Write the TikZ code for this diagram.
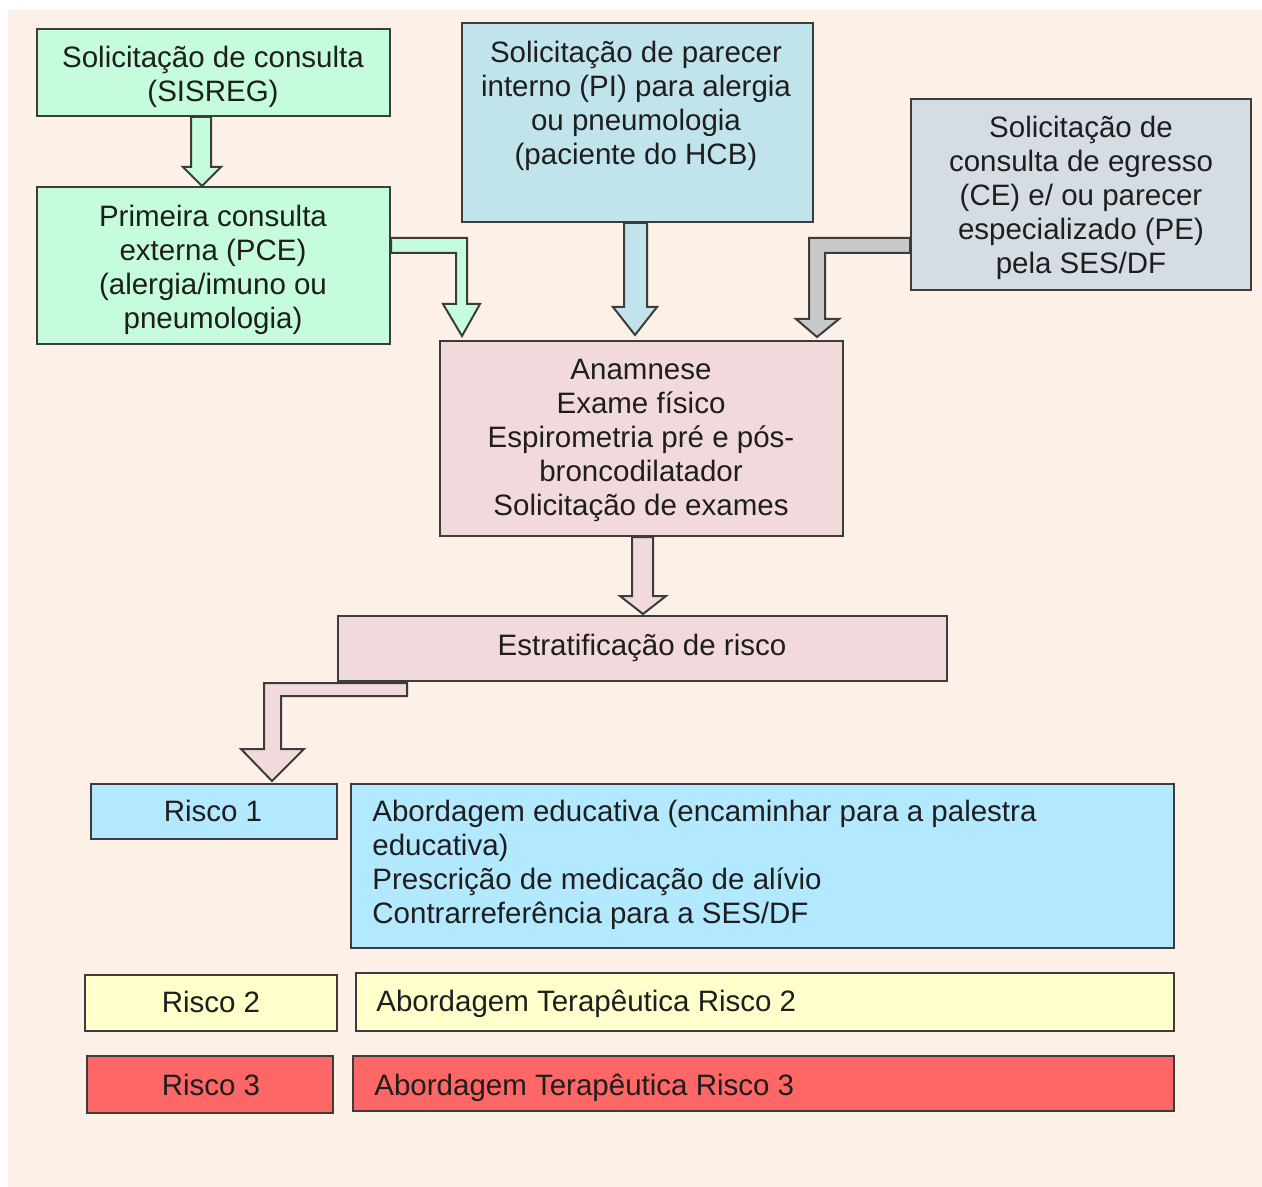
\documentclass[tikz,border=0pt]{standalone}
\usepackage{fontspec}
\setmainfont{Liberation Sans}
\usetikzlibrary{fit}
\definecolor{peach}{RGB}{253,240,230}
\definecolor{mint}{RGB}{196,252,220}
\definecolor{piblue}{RGB}{193,227,235}
\definecolor{cegray}{RGB}{213,220,228}
\definecolor{pinkbox}{RGB}{242,218,220}
\definecolor{riskblue}{RGB}{179,233,255}
\definecolor{riskyellow}{RGB}{255,255,204}
\definecolor{riskred}{RGB}{255,102,102}
\definecolor{arrowgray}{RGB}{200,200,200}
\definecolor{edgec}{RGB}{60,60,60}
\definecolor{txtc}{RGB}{30,30,30}
\newcommand\diagfont{\fontsize{14.75}{17}\selectfont}
\begin{document}
\begin{tikzpicture}[x=0.5pt,y=-0.5pt,
  box/.style={draw=edgec, line width=1pt, inner sep=0pt},
  txtnode/.style={inner sep=0pt, font=\diagfont, text=txtc, align=center},
  blockarrow/.style={draw=edgec, line width=1pt, line join=miter}]
\useasboundingbox (0,0) rectangle (1262,1187);
\fill[white] (0,0) rectangle (1262,1187);
\fill[peach] (8,10) rectangle (1262,1187);

% boxes
\node[box, fill=mint, fit={(37,29) (390,116)}] (sisreg) {};
\node[txtnode] (sisregtxt) at (213,76.5) {Solicitação de consulta\\(SISREG)};
\node[box, fill=mint, fit={(37,187) (390,344)}] (pce) {};
\node[txtnode] (pcetxt) at (213,270) {Primeira consulta\\externa (PCE)\\(alergia/imuno ou\\pneumologia)};
\node[box, fill=piblue, fit={(462,23) (813,222)}] (pi) {};
\node[txtnode] (pitxt) at (636,105.5) {Solicitação de parecer\\interno (PI) para alergia\\ou pneumologia\\(paciente do HCB)};
\node[box, fill=cegray, fit={(911,99) (1251,290)}] (ce) {};
\node[txtnode] (cetxt) at (1081,198) {Solicitação de\\consulta de egresso\\(CE) e/ ou parecer\\especializado (PE)\\pela SES/DF};
\node[box, fill=pinkbox, fit={(440,341) (843,536)}] (anam) {};
\node[txtnode] (anamtxt) at (641,440.5) {Anamnese\\Exame físico\\Espirometria pré e pós-\\broncodilatador\\Solicitação de exames};
\node[box, fill=pinkbox, fit={(338,616) (947,681)}] (estrat) {};
\node[txtnode] (estrattxt) at (642,648) {Estratificação de risco};
\node[box, fill=riskblue, fit={(91,784) (337,839)}] (r1) {};
\node[txtnode] (r1txt) at (213,811) {Risco 1};
\node[box, fill=riskblue, fit={(351,784) (1174,948)}] (a1) {};
\node[txtnode, align=left, anchor=west] (a1txt) at (372,865) {Abordagem educativa (encaminhar para a palestra\\educativa)\\Prescrição de medicação de alívio\\Contrarreferência para a SES/DF};
\node[box, fill=riskyellow, fit={(85,975) (337,1031)}] (r2) {};
\node[txtnode] (r2txt) at (211,1002) {Risco 2};
\node[box, fill=riskyellow, fit={(356,973) (1174,1031)}] (a2) {};
\node[txtnode, anchor=west] (a2txt) at (376,1004) {Abordagem Terapêutica Risco 2};
\node[box, fill=riskred, fit={(87,1056) (333,1113)}] (r3) {};
\node[txtnode] (r3txt) at (211,1085) {Risco 3};
\node[box, fill=riskred, fit={(353,1056) (1174,1111)}] (a3) {};
\node[txtnode, anchor=west] (a3txt) at (374,1088) {Abordagem Terapêutica Risco 3};

% block arrows
\draw[blockarrow, fill=mint] (191,0 |- sisreg.south) -- (211,0 |- sisreg.south) -- (211,167) -- (221,167) -- (202,0 |- pce.north) -- (183,167) -- (191,167) -- cycle;
\draw[blockarrow, fill=mint] (pce.east |- 0,238) -- (467,238) -- (467,304) -- (480,304) -- (462,336) -- (443,304) -- (456,304) -- (456,253) -- (pce.east |- 0,253) -- cycle;
\draw[blockarrow, fill=piblue] (624,0 |- pi.south) -- (647,0 |- pi.south) -- (647,307) -- (657,307) -- (635,335) -- (613,307) -- (624,307) -- cycle;
\draw[blockarrow, fill=arrowgray] (ce.west |- 0,238) -- (809,238) -- (809,319) -- (796,319) -- (817,337) -- (839,319) -- (825,319) -- (825,253) -- (ce.west |- 0,253) -- cycle;
\draw[blockarrow, fill=pinkbox] (632,0 |- anam.south) -- (653,0 |- anam.south) -- (653,596) -- (666,596) -- (643,614) -- (620,596) -- (632,596) -- cycle;
\draw[blockarrow, fill=pinkbox] (407,683) -- (264,683) -- (264,749) -- (241,749) -- (272,781) -- (304,749) -- (281,749) -- (281,696) -- (407,696) -- cycle;
\end{tikzpicture}
\end{document}
